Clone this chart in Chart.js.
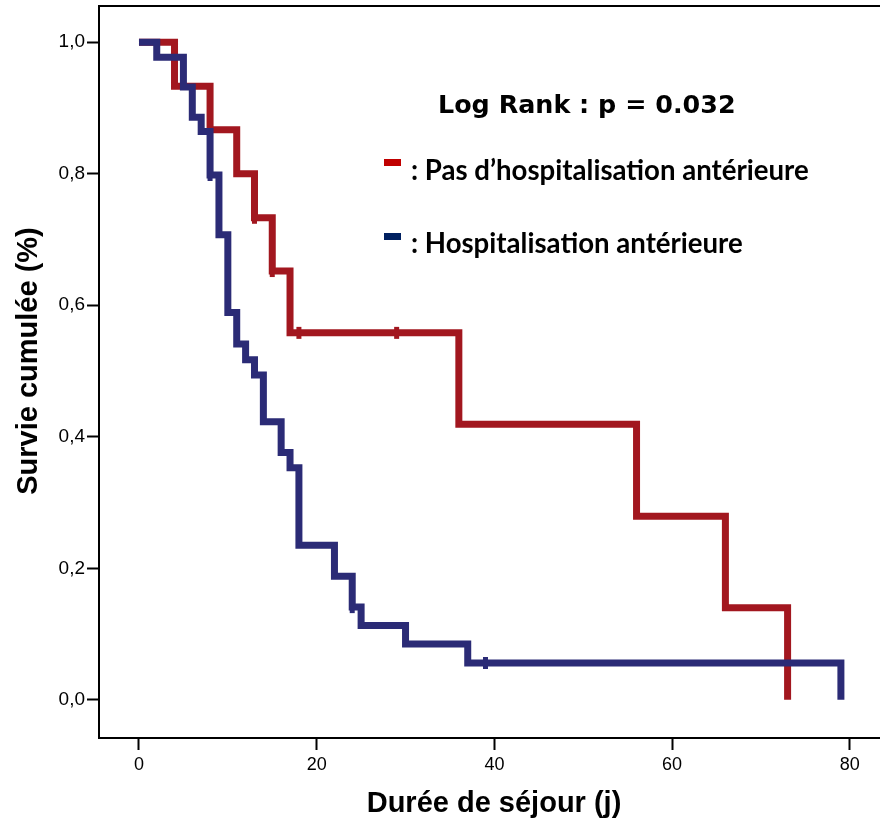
<!DOCTYPE html>
<html>
<head>
<meta charset="utf-8">
<script src="https://cdn.jsdelivr.net/npm/chart.js@4.4.1/dist/chart.umd.min.js"></script>
<style>
  body { margin: 0; background: #fff; }
  canvas { display: block; }
</style>
</head>
<body>
<canvas id="kmChart" width="880" height="823"></canvas>
<script>
// Kaplan-Meier steps (time in days, cumulative survival)
const redTimes = [0, 4, 8, 11, 13, 15, 17, 36, 56, 66, 73];
const redSurv = [1, 0.933, 0.867, 0.8, 0.733, 0.652, 0.558, 0.419, 0.279, 0.14, 0];
const redCensorTimes = [13, 15, 18, 29];
const redCensorSurv = [0.733, 0.652, 0.558, 0.558];

const blueTimes = [0, 2, 5, 6, 7, 8, 9, 10, 11, 12, 13, 14, 16, 17, 18, 22, 24, 25, 30, 37, 79];
const blueSurv = [1, 0.977, 0.932, 0.886, 0.864, 0.798, 0.707, 0.589, 0.541, 0.517, 0.494, 0.423, 0.376, 0.353, 0.235, 0.188, 0.141, 0.113, 0.085, 0.056, 0];
const blueCensorTimes = [8, 24, 39];
const blueCensorSurv = [0.798, 0.141, 0.056];

const xTicks = [0, 20, 40, 60, 80];
const yTicks = [0, 0.2, 0.4, 0.6, 0.8, 1.0];

const xTitle = 'Durée de séjour (j)';
const yTitle = 'Survie cumulée (%)';
const testLabel = 'Log Rank : p = 0.032';
const redLabel = ': Pas d’hospitalisation antérieure';
const blueLabel = ': Hospitalisation antérieure';

const RED = '#a2171f';
const BLUE = '#2b2b76';

const toPoints = (xs, ys) => xs.map((x, i) => ({ x: x, y: ys[i] }));

// no extra room for the first/last tick labels
const noPadding = s => {
    s.paddingLeft = 0;
    s.paddingRight = 0;
    s.paddingTop = 0;
    s.paddingBottom = 0;
};

// text, legend and frame drawn on top of the chart
const annotations = {
    id: 'annotations',
    afterDraw(chart) {
        const ctx = chart.ctx;
        const area = chart.chartArea;
        ctx.save();

        // top frame line
        ctx.strokeStyle = '#000';
        ctx.lineWidth = 2;
        ctx.beginPath();
        ctx.moveTo(area.left - 1, area.top);
        ctx.lineTo(area.right, area.top);
        ctx.stroke();

        ctx.fillStyle = '#000';
        ctx.textBaseline = 'alphabetic';

        ctx.font = 'bold 25.4px "DejaVu Sans"';
        ctx.textAlign = 'left';
        ctx.fillText(testLabel, 438, 113);

        ctx.fillStyle = '#c00000';
        ctx.fillRect(384, 159, 17, 7);
        ctx.fillStyle = '#002060';
        ctx.fillRect(384, 233, 17, 7);

        ctx.fillStyle = '#000';
        ctx.font = 'bold 27.6px Lato';
        ctx.fillText(redLabel, 411, 180);
        ctx.fillText(blueLabel, 411, 253);

        // axis titles
        ctx.font = 'bold 29px "Liberation Sans"';
        ctx.textAlign = 'center';
        ctx.fillText(xTitle, 494, 812);

        ctx.translate(37, 361);
        ctx.rotate(-Math.PI / 2);
        ctx.fillText(yTitle, 0, 0);

        ctx.restore();
    }
};

const ctx = document.getElementById('kmChart').getContext('2d');
new Chart(ctx, {
    type: 'line',
    data: {
        datasets: [
            {
                data: toPoints(blueTimes, blueSurv),
                borderColor: BLUE,
                borderWidth: 7,
                stepped: 'before',
                pointRadius: 0,
                borderJoinStyle: 'miter',
                borderCapStyle: 'butt',
                fill: false,
                order: 0
            },
            {
                data: toPoints(blueCensorTimes, blueCensorSurv),
                showLine: false,
                pointStyle: 'line',
                rotation: 90,
                pointRadius: 6,
                pointBorderWidth: 5,
                borderColor: BLUE,
                order: 0
            },
            {
                data: toPoints(redTimes, redSurv),
                borderColor: RED,
                borderWidth: 7,
                stepped: 'before',
                pointRadius: 0,
                borderJoinStyle: 'miter',
                borderCapStyle: 'butt',
                fill: false,
                order: 1
            },
            {
                data: toPoints(redCensorTimes, redCensorSurv),
                showLine: false,
                pointStyle: 'line',
                rotation: 90,
                pointRadius: 6,
                pointBorderWidth: 5,
                borderColor: RED,
                order: 1
            }
        ]
    },
    options: {
        responsive: false,
        animation: false,
        devicePixelRatio: 1,
        layout: {
            autoPadding: false,
            padding: { top: 6, right: 0, left: 0, bottom: 0 }
        },
        plugins: {
            legend: { display: false },
            tooltip: { enabled: false }
        },
        scales: {
            x: {
                type: 'linear',
                min: -4.5,
                max: 83.4,
                afterBuildTicks: s => { s.ticks = xTicks.map(v => ({ value: v })); },
                afterFit: s => { s.height = 85; noPadding(s); },
                grid: {
                    drawOnChartArea: false,
                    drawTicks: true,
                    tickLength: 12,
                    tickWidth: 2,
                    tickColor: '#000'
                },
                border: { display: true, color: '#000', width: 2 },
                ticks: {
                    color: '#000',
                    padding: 4,
                    maxRotation: 0,
                    font: { family: '"Liberation Sans", Arial, sans-serif', size: 18 }
                }
            },
            y: {
                type: 'linear',
                min: -0.058,
                max: 1.055,
                afterBuildTicks: s => { s.ticks = yTicks.map(v => ({ value: v })); },
                afterFit: s => { s.width = 99; noPadding(s); },
                grid: {
                    drawOnChartArea: false,
                    drawTicks: true,
                    tickLength: 12,
                    tickWidth: 2,
                    tickColor: '#000'
                },
                border: { display: true, color: '#000', width: 2 },
                ticks: {
                    color: '#000',
                    padding: 2,
                    font: { family: '"Liberation Sans", Arial, sans-serif', size: 19 },
                    callback: v => v.toFixed(1).replace('.', ',')
                }
            }
        }
    },
    plugins: [annotations]
});
</script>
</body>
</html>
